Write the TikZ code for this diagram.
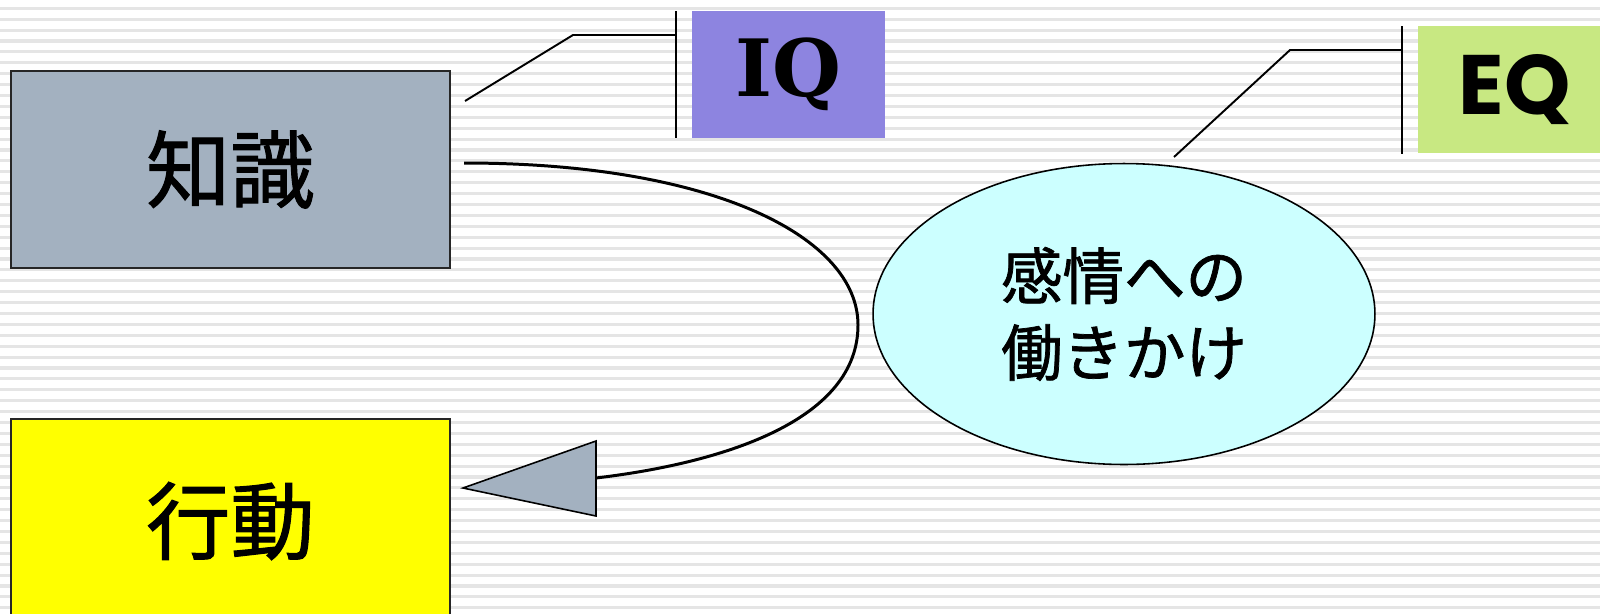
\documentclass[tikz,border=0pt]{standalone}
\usepackage{fontspec}
\usetikzlibrary{shapes.geometric}
\newfontfamily\jp[FakeBold=1.2]{Noto Sans CJK JP}
\newfontfamily\iqfont{DejaVu Serif}
\newfontfamily\eqfont{Poppins}
\definecolor{bgstripe}{RGB}{229,229,229}
\definecolor{boxgray}{RGB}{163,177,192}
\definecolor{iqpurple}{RGB}{141,132,224}
\definecolor{eqgreen}{RGB}{200,232,130}
\definecolor{cyanfill}{RGB}{204,255,255}
\definecolor{yel}{RGB}{255,255,0}
\tikzset{
  stripe/.style={draw=bgstripe, line width=1.8pt},
  bigbox/.style={draw=black!85, line width=1.1pt, minimum width=8.78cm, inner sep=0pt,
    font=\jp\fontsize{48}{56}\selectfont},
  tagbox/.style={draw=none, inner sep=0pt, minimum width=3.87cm, minimum height=2.54cm},
  callout/.style={draw=black, line width=1.1pt},
  bubble/.style={ellipse, draw=black, line width=0.9pt, fill=cyanfill, inner sep=0pt,
    minimum width=10.04cm, minimum height=6.02cm, align=center,
    font=\jp\fontsize{35}{43.6}\selectfont},
  flow/.style={draw=black, line width=1.7pt},
  head/.style={draw=black, line width=0.9pt, fill=boxgray, line join=miter}
}
\begin{document}
\begin{tikzpicture}[x=0.02cm, y=-0.02cm]
\useasboundingbox (0,0) rectangle (1600,613);
\fill[white] (0,0) rectangle (1600,613);
\foreach \k in {-1,...,56} {
  \draw[stripe] (0,{8.3+\k*10.9}) -- (1600,{8.3+\k*10.9});
}
% boxes
\node[bigbox, fill=boxgray, minimum height=3.94cm] (know) at (230.5,169.5) {知識};
\node[bigbox, fill=yel, minimum height=4.08cm] (act) at (230.5,521) {行動};
\node[tagbox, fill=iqpurple, font=\iqfont\bfseries\fontsize{45}{50}\selectfont] (iq) at (788.5,74.5) {IQ};
\node[tagbox, fill=eqgreen, font=\eqfont\bfseries\fontsize{48}{54}\selectfont] (eq) at (1515,89.5) {EQ};
\node[bubble] (emo) at (1124,314) {感情への\\働きかけ};
% IQ callout
\coordinate (iqtop) at (676,11);
\coordinate (iqbot) at (676,138);
\coordinate (iqmid) at (676,35);
\coordinate (iqelbow) at (573,35);
\coordinate (iqend) at (465,101);
\draw[callout] (iqtop) -- (iqbot);
\draw[callout] (iqmid) -- (iqelbow) -- (iqend);
% EQ callout
\coordinate (eqtop) at (1402,26);
\coordinate (eqbot) at (1402,154);
\coordinate (eqmid) at (1402,50);
\coordinate (eqelbow) at (1290,50);
\coordinate (eqend) at (1174,157);
\draw[callout] (eqtop) -- (eqbot);
\draw[callout] (eqmid) -- (eqelbow) -- (eqend);
% flow curve with arrowhead
\coordinate (fstart) at (464,163);
\coordinate (fturn) at (858,325);
\coordinate (fbase) at (596,478);
\coordinate (tip) at (463,488);
\coordinate (btop) at (596,441);
\coordinate (bbot) at (596,516);
\draw[flow] (fstart) .. controls (715,163) and (858,238) .. (fturn)
  .. controls (858,418) and (730,462) .. (fbase);
\draw[head] (tip) -- (btop) -- (bbot) -- cycle;
\end{tikzpicture}
\end{document}
